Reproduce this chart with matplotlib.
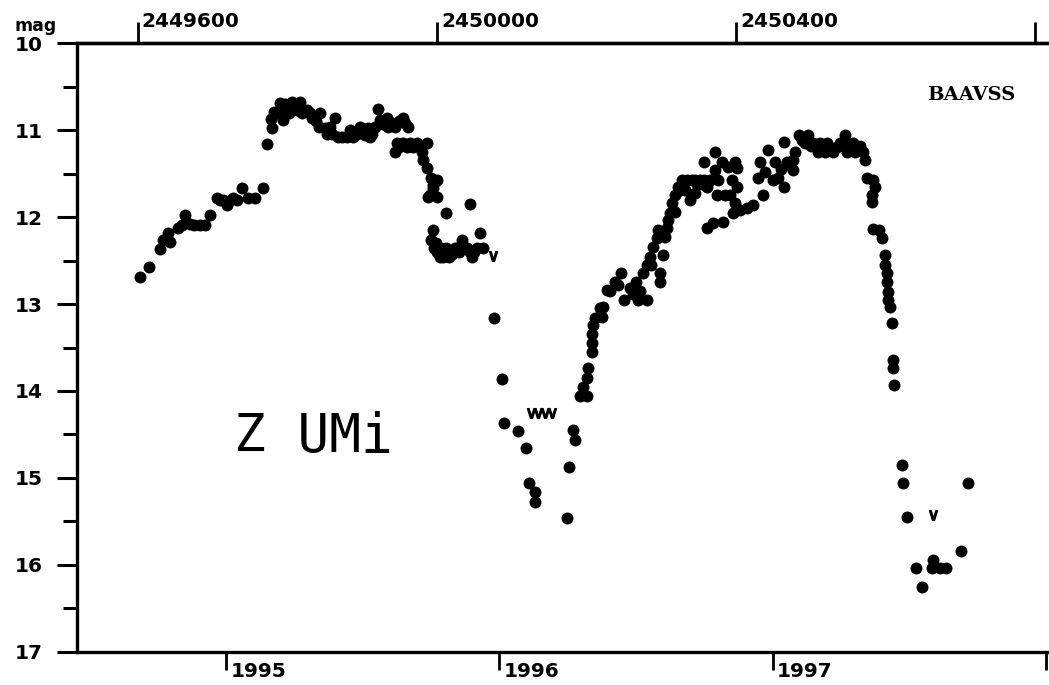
import matplotlib
matplotlib.use('Agg')
import matplotlib.pyplot as plt
import matplotlib.transforms as mtransforms

# visual estimates (JD, magnitude)
jd = [2449603, 2449615, 2449630, 2449634, 2449641, 2449644, 2449654, 2449659, 2449663,
      2449670, 2449676, 2449683, 2449690, 2449697, 2449706, 2449710, 2449714, 2449719,
      2449722, 2449727, 2449733, 2449739, 2449748, 2449757, 2449768,
      2449773, 2449780, 2449778, 2449782, 2449787, 2449790, 2449794, 2449800, 2449806,
      2449810, 2449813, 2449817, 2449820, 2449826, 2449833, 2449842, 2449844, 2449850,
      2449857, 2449864, 2449868, 2449874, 2449880, 2449888, 2449897, 2449904, 2449911,
      2449917, 2449921, 2449924, 2449928, 2449933, 2449935, 2449944, 2449955, 2449961,
      2449797, 2449803, 2449830, 2449838, 2449853, 2449860, 2449884, 2449893, 2449900,
      2449908, 2449914, 2449940, 2449950, 2449958,
      2449947, 2449944, 2449955, 2449964, 2449973, 2449987, 2449980, 2449981, 2449987,
      2449993, 2450001, 2449995, 2449988, 2450000, 2449991, 2449995,
      2449950, 2449960, 2449968, 2449977,
      2450044, 2450013, 2449995, 2449993, 2449997, 2450004, 2450004, 2450009, 2450013,
      2450017, 2450024, 2450028, 2450034, 2450035, 2450040, 2450047, 2450054, 2450058,
      2450062, 2450000, 2450020, 2450030, 2450044, 2450050, 2449999,
      2450076, 2450087, 2450090, 2450108, 2450119, 2450124, 2450131, 2450131, 2450174,
      2450177, 2450182, 2450185,
      2450191, 2450201, 2450195, 2450201, 2450202, 2450207, 2450207, 2450207, 2450209,
      2450211, 2450218, 2450222, 2450221, 2450227, 2450238, 2450247, 2450251, 2450258,
      2450267, 2450269, 2450281, 2450276, 2450281, 2450285, 2450289, 2450294, 2450296,
      2450298, 2450298, 2450302, 2450305, 2450308, 2450309, 2450312, 2450314, 2450318,
      2450318, 2450325, 2450328, 2450334, 2450341, 2450345, 2450332, 2450338, 2450345,
      2450352, 2450358, 2450361, 2450365, 2450358, 2450372, 2450381, 2450372, 2450376,
      2450375, 2450385, 2450389, 2450399, 2450401, 2450395, 2450401, 2450392, 2450399,
      2450396, 2450405, 2450415, 2450423, 2450361, 2450369, 2450383, 2450429, 2450432,
      2450439, 2450436, 2450443, 2450452, 2450449, 2450456, 2450465, 2450465, 2450468,
      2450476, 2450479, 2450476, 2450485, 2450492, 2450496, 2450503, 2450510, 2450512,
      2450519, 2450522, 2450530, 2450539, 2450546, 2450548, 2450556, 2450559, 2450570,
      2450572,
      2450232, 2450243, 2450262, 2450272, 2450286, 2450322, 2450348, 2450355,
      2450488, 2450500, 2450507, 2450516, 2450525, 2450535, 2450543, 2450552, 2450563,
      2450566, 2450460, 2450472,
      2450575, 2450583, 2450586, 2450582, 2450582, 2450583, 2450592, 2450595, 2450599,
      2450599, 2450602, 2450602, 2450603, 2450603, 2450606, 2450609, 2450610, 2450610,
      2450612, 2450622, 2450623, 2450629, 2450711, 2450701, 2450641, 2450663, 2450662,
      2450673, 2450681, 2450649]

mag = [12.69, 12.57, 12.37, 12.27, 12.18, 12.29, 12.13, 12.09, 11.98,
       12.08, 12.09, 12.09, 12.09, 11.98, 11.78, 11.80, 11.80, 11.86,
       11.82, 11.78, 11.80, 11.67, 11.78, 11.78, 11.67,
       11.16, 10.98, 10.87, 10.79, 10.80, 10.69, 10.89, 10.77, 10.68,
       10.72, 10.77, 10.68, 10.80, 10.77, 10.86, 10.96, 10.80, 10.98,
       10.96, 10.86, 11.08, 11.08, 11.08, 11.08, 10.96, 11.06, 11.08,
       10.96, 10.76, 10.89, 10.93, 10.86, 10.96, 10.96, 10.86, 10.96,
       10.70, 10.80, 10.80, 10.90, 11.05, 11.05, 11.00, 11.05, 11.00,
       10.98, 11.05, 10.92, 10.90, 10.92,
       11.15, 11.25, 11.15, 11.15, 11.15, 11.15, 11.25, 11.35, 11.44,
       11.55, 11.57, 11.67, 11.77, 11.77, 11.75, 11.63,
       11.20, 11.20, 11.20, 11.18,
       11.85, 11.95, 12.15, 12.26, 12.36, 12.46, 12.36, 12.46, 12.36,
       12.46, 12.36, 12.36, 12.26, 12.36, 12.36, 12.46, 12.36, 12.18,
       12.36, 12.40, 12.42, 12.40, 12.40, 12.40, 12.30,
       13.16, 13.86, 14.37, 14.46, 14.66, 15.06, 15.16, 15.28, 15.46,
       14.87, 14.45, 14.56,
       14.06, 14.06, 13.95, 13.85, 13.73, 13.55, 13.45, 13.35, 13.24,
       13.16, 13.05, 13.03, 13.15, 12.84, 12.75, 12.64, 12.95, 12.82,
       12.75, 12.95, 12.95, 12.64, 12.55, 12.46, 12.34, 12.24, 12.15,
       12.64, 12.75, 12.44, 12.23, 12.13, 12.03, 11.95, 11.84, 11.75,
       11.94, 11.69, 11.57, 11.57, 11.57, 11.57, 11.69, 11.80, 11.72,
       11.57, 11.57, 11.65, 11.57, 11.37, 11.25, 11.37, 11.46, 11.57,
       11.75, 11.75, 11.42, 11.37, 11.44, 11.57, 11.65, 11.75, 11.84,
       11.95, 11.92, 11.90, 11.86, 12.13, 12.07, 12.06, 11.55, 11.37,
       11.48, 11.75, 11.23, 11.37, 11.57, 11.55, 11.65, 11.14, 11.37,
       11.34, 11.25, 11.46, 11.06, 11.15, 11.06, 11.15, 11.25, 11.15,
       11.25, 11.15, 11.25, 11.15, 11.06, 11.25, 11.15, 11.25, 11.25,
       11.34,
       12.85, 12.78, 12.88, 12.85, 12.55, 11.65, 11.62, 11.62,
       11.12, 11.18, 11.20, 11.20, 11.20, 11.20, 11.15, 11.20, 11.22,
       11.18, 11.45, 11.40,
       11.55, 11.57, 11.65, 11.75, 11.83, 12.14, 12.15, 12.24, 12.44,
       12.55, 12.64, 12.75, 12.86, 12.95, 13.03, 13.22, 13.64, 13.73,
       13.93, 14.85, 15.06, 15.45, 15.06, 15.84, 16.03, 15.94, 16.03,
       16.03, 16.03, 16.25]

# "fainter than" estimates
jd_lim = [2450075, 2450126, 2450135, 2450145, 2450154, 2450663]
mag_lim = [12.45, 14.25, 14.25, 14.25, 14.25, 15.43]

jd_ticks = [2449600, 2450000, 2450400, 2450800]
jd_labels = ['2449600', '2450000', '2450400', '']
year_ticks = [2449718.5, 2450083.5, 2450449.5, 2450814.5]
year_labels = ['1995', '1996', '1997', '']
mag_ticks = [10, 11, 12, 13, 14, 15, 16, 17]

fig = plt.figure(figsize=(10.49, 6.85), dpi=100)
ax = fig.add_axes([0.0734, 0.0482, 0.9247, 0.889])

ax.plot(jd, mag, 'o', color='black', markersize=8.6, markeredgewidth=0)
ax.plot(jd_lim, mag_lim, linestyle='none', marker=r'$\vee$', color='black', markersize=7)

ax.set_xlim(2449519, 2450816)
ax.set_ylim(17, 10)

for side in ['left', 'top', 'bottom']:
    ax.spines[side].set_linewidth(2.4)
ax.spines['right'].set_visible(False)

lab_font = dict(family='DejaVu Sans', weight='bold', size=14.5)

ax.set_yticks(mag_ticks)
ax.set_yticklabels([str(m) for m in mag_ticks], **lab_font)
ax.set_yticks([10.5 + i for i in range(7)], minor=True)
ax.tick_params(axis='y', which='major', length=14.5, width=2.2, pad=10)
ax.tick_params(axis='y', which='minor', length=10, width=2.2)

ax.set_xticks(year_ticks)
ax.set_xticklabels(year_labels, **lab_font)
ax.tick_params(axis='x', which='major', direction='out', length=13, width=2.0, pad=-6)

top = ax.secondary_xaxis('top')
top.set_xticks(jd_ticks)
top.set_xticklabels(jd_labels, **lab_font)
top.tick_params(axis='x', direction='out', length=15, width=2.0, pad=-6)
top.spines['top'].set_linewidth(2.4)

shift = mtransforms.ScaledTranslation(3 / 72, 0, fig.dpi_scale_trans)
for lab in ax.get_xticklabels() + top.get_xticklabels():
    lab.set_horizontalalignment('left')
    lab.set_transform(lab.get_transform() + shift)

fig.text(0.014, 0.955, 'mag', fontsize=12.5, fontweight='bold', family='DejaVu Sans')
ax.text(0.876, 0.915, 'BAAVSS', transform=ax.transAxes, fontsize=14,
        fontweight='bold', family='DejaVu Serif', ha='left', va='center')
ax.text(0.162, 0.353, 'Z UMi', transform=ax.transAxes, fontsize=38,
        family='DejaVu Sans Mono', ha='left', va='center')

fig.savefig('out.png', dpi=100)
